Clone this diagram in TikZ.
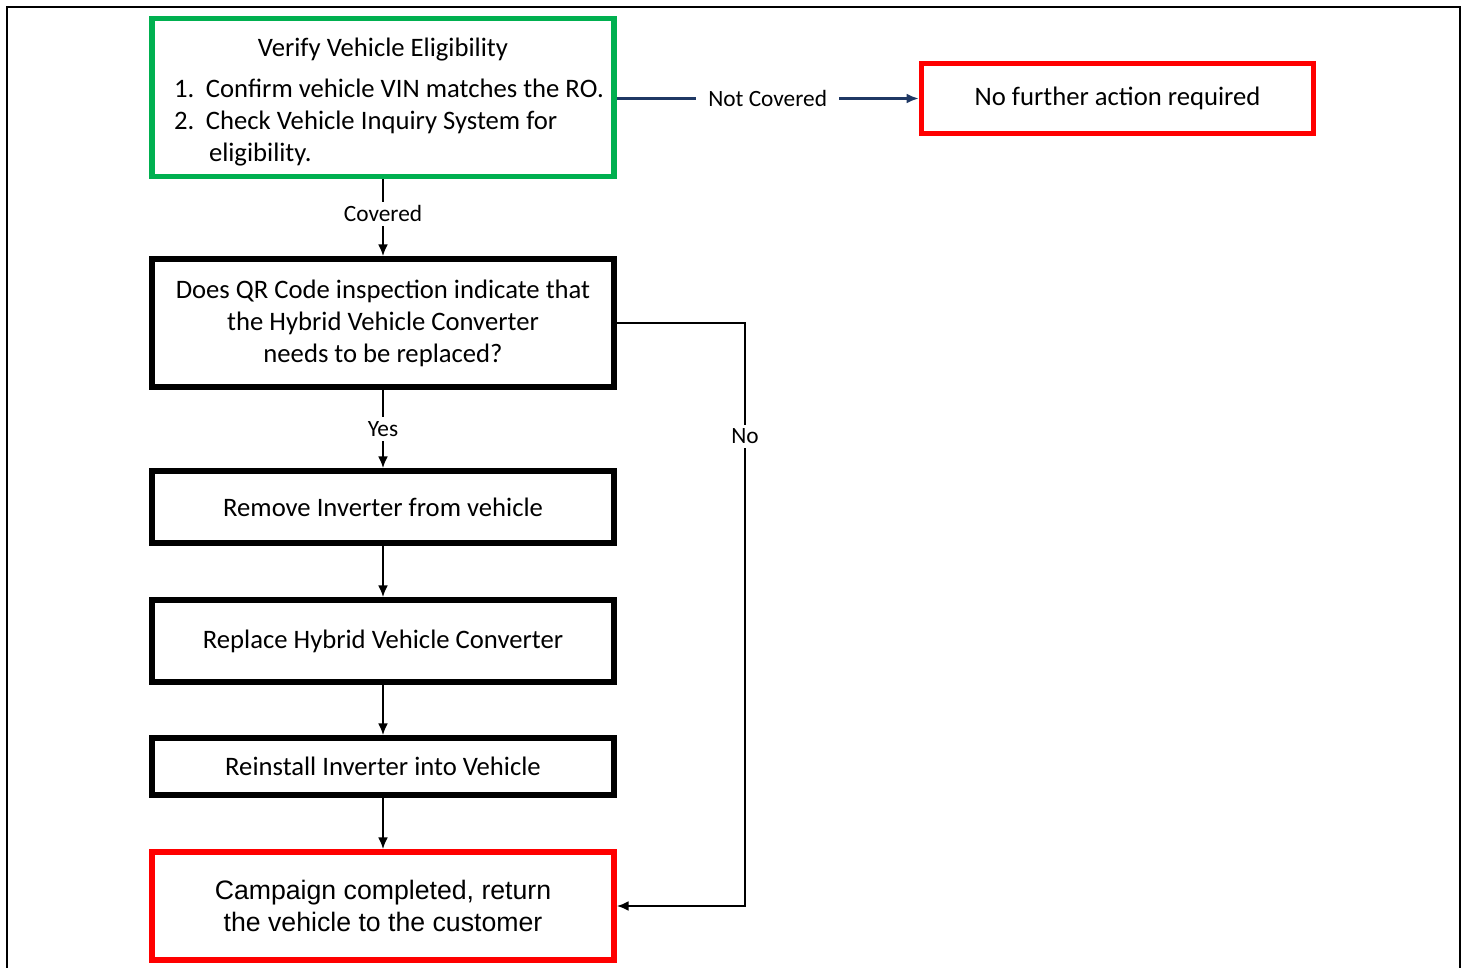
\documentclass[tikz,border=0pt]{standalone}
\usepackage{fontspec}
\setmainfont{Carlito}
\newfontfamily\arialfont{Liberation Sans}
\usetikzlibrary{arrows.meta}
\definecolor{boxgreen}{HTML}{00B050}
\definecolor{boxred}{HTML}{FF0000}
\definecolor{arrnavy}{HTML}{1F3864}
\newcommand{\veline}[2]{\makebox[343.5pt][l]{\hspace*{15pt}\makebox[24pt][l]{#1}#2}}
\begin{document}
\begin{tikzpicture}[x=0.75pt,y=-0.75pt,>={Latex[length=9pt,width=7.5pt]},
    box/.style={draw,line width=4pt,minimum width=346.5pt,align=center,inner sep=1.5pt,font=\fontsize{20}{24}\selectfont},
    greenbox/.style={box,draw=boxgreen},
    redbox/.style={box,draw=boxred},
    conn/.style={line width=2.2pt,->},
    lbl/.style={fill=white,text=black,inner sep=3pt,font=\fontsize{17.5}{21}\selectfont}]
    \useasboundingbox (0,0) rectangle (1465,968);
    \draw[line width=1.8pt] (7,975) -- (7,7) -- (1460,7) -- (1460,975);
    \node[greenbox,minimum height=118.5pt,align=left] (ve) at (383,97.5) {\makebox[343.5pt]{\rule{0pt}{20pt}Verify Vehicle Eligibility}\\[6.75pt]
        \veline{1.}{Confirm vehicle VIN matches the RO.}\\
        \veline{2.}{Check Vehicle Inquiry System for}\\
        \veline{}{\hspace*{2.25pt}eligibility.}};
    \node[redbox,minimum width=294pt,minimum height=52.5pt,line width=4.2pt] (nf) at (1117.5,98.5) {No further action required};
    \node[box,minimum height=96pt] (qr) at (383,323) {Does QR Code inspection indicate that\\the Hybrid Vehicle Converter\\needs to be replaced?};
    \node[box,minimum height=54pt] (ri) at (383,507) {Remove Inverter from vehicle};
    \node[box,minimum height=61.5pt] (rc) at (383,641) {Replace Hybrid Vehicle Converter};
    \node[box,minimum height=42.75pt] (rv) at (383,766.5) {Reinstall Inverter into Vehicle};
    \node[redbox,minimum height=81pt,font=\arialfont\fontsize{20}{24}\selectfont] (cc) at (383,906) {Campaign completed, return\\the vehicle to the customer};
    \coordinate (nr) at (745,323);
    \coordinate (nd) at (745,906);
    \draw[conn,line width=2pt,arrnavy] (ve.east |- nf) -- node[lbl,inner xsep=9pt]{Not Covered} (nf);
    \draw[conn] (ve) -- node[lbl,yshift=3pt]{Covered} (qr);
    \draw[conn] (qr) -- node[lbl]{Yes} (ri);
    \draw[conn] (ri) -- (rc);
    \draw[conn] (rc) -- (rv);
    \draw[conn] (rv) -- (cc);
    \draw[conn] (qr.east) -- (nr) -- node[lbl,pos=0.194]{No} (nd) -- (cc.east);
\end{tikzpicture}
\end{document}
